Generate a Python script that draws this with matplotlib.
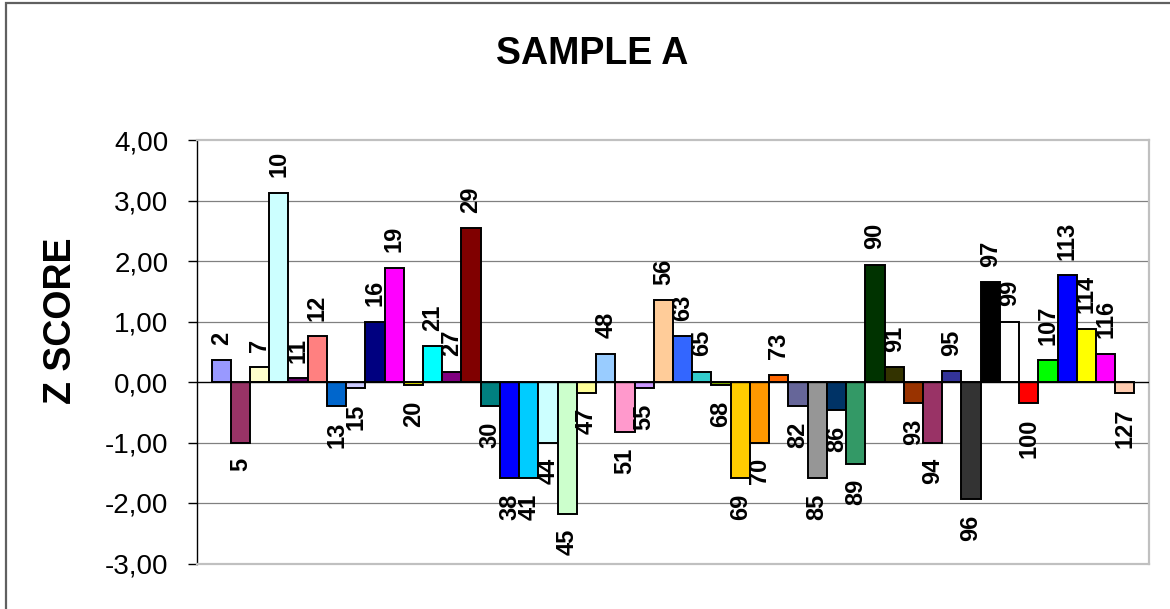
import matplotlib
matplotlib.use("Agg")
import matplotlib.pyplot as plt
from matplotlib.patches import Rectangle
import numpy as np

plt.rcParams['font.family'] = ['Liberation Sans', 'DejaVu Sans']

# sample ids (one bar each) and their z scores
sample_ids = [2, 5, 7, 10, 11, 12, 13, 15, 16, 19, 20, 21, 27, 29, 30, 38, 41, 44,
              45, 47, 48, 51, 55, 56, 63, 65, 68, 69, 70, 73, 82, 85, 86, 89, 90,
              91, 93, 94, 95, 96, 97, 99, 100, 107, 113, 114, 116, 127]
z_scores = [0.36, -1.00, 0.24, 3.13, 0.06, 0.76, -0.40, -0.10, 1.00, 1.89, -0.05,
            0.59, 0.17, 2.54, -0.40, -1.59, -1.59, -1.00, -2.18, -0.18, 0.47,
            -0.83, -0.10, 1.35, 0.76, 0.17, -0.05, -1.59, -1.00, 0.12, -0.40,
            -1.59, -0.47, -1.35, 1.94, 0.24, -0.35, -1.00, 0.18, -1.94, 1.65,
            1.00, -0.35, 0.36, 1.77, 0.88, 0.47, -0.18]
bar_colors = ['#9999FF', '#993366', '#FFFFCC', '#CCFFFF', '#660066', '#FF8080',
              '#0066CC', '#CCCCFF', '#000080', '#FF00FF', '#FFFF00', '#00FFFF',
              '#800080', '#800000', '#008080', '#0000FF', '#00CCFF', '#CCFFFF',
              '#CCFFCC', '#FFFF99', '#99CCFF', '#FF99CC', '#CC99FF', '#FFCC99',
              '#3366FF', '#33CCCC', '#99CC00', '#FFCC00', '#FF9900', '#FF6600',
              '#666699', '#969696', '#003366', '#339966', '#003300', '#333300',
              '#993300', '#993366', '#333399', '#333333', '#000000', '#FFFFFF',
              '#FF0000', '#00FF00', '#0000FF', '#FFFF00', '#FF00FF', '#FFCCB0']
ytick_vals = [-3, -2, -1, 0, 1, 2, 3, 4]
ytick_labels = ['-3,00', '-2,00', '-1,00', '0,00', '1,00', '2,00', '3,00', '4,00']

fig = plt.figure(figsize=(11.7, 6.09), dpi=100)
ax = fig.add_axes([197 / 1170, 1 - 563.5 / 609, (1149 - 197) / 1170, (563.5 - 140) / 609])

x = np.arange(len(sample_ids))
ax.bar(x, z_scores, width=1.0, color=bar_colors, edgecolor='black', linewidth=1.4, zorder=3)

# labels outside the bar ends
for xi, val, sid in zip(x, z_scores, sample_ids):
    off = 11 if val >= 0 else -11
    ax.annotate(str(sid), (xi, val), xytext=(0, off), textcoords='offset points',
                rotation=90, ha='center', va='bottom' if val >= 0 else 'top',
                fontsize=17, fontweight='bold', zorder=4)

ax.set_xlim(-1.255, len(sample_ids) - 1 + 1.255)
ax.set_ylim(-3, 4)
ax.set_yticks(ytick_vals)
ax.set_yticklabels(ytick_labels, fontsize=20)
ax.tick_params(axis='y', direction='out', length=6.5, width=1, pad=14)
ax.set_xticks([])

for v in [-2, -1, 1, 2, 3]:
    ax.axhline(v, color='#808080', lw=0.9, zorder=1)
ax.axhline(0, color='black', lw=1.0, zorder=3.5)

for s in ['top', 'right', 'bottom']:
    ax.spines[s].set_color('#C0C0C0')
    ax.spines[s].set_linewidth(1.6)
ax.spines['left'].set_color('black')
ax.spines['left'].set_linewidth(1.0)

fig.text(592.5 / 1170, 1 - 64 / 609, 'SAMPLE A', ha='center', va='baseline',
         fontsize=27, fontweight='bold')
fig.text(61 / 1170, 1 - 321 / 609, 'Z SCORE', ha='center', va='center',
         rotation=90, fontsize=27, fontweight='bold')

# outer chart frame
fig.patches.append(Rectangle((5.5 / 1170, -0.1), 1.2, (609 - 2.5) / 609 + 0.1,
                             transform=fig.transFigure, fill=False,
                             edgecolor='#606060', linewidth=1.6))

fig.savefig('out.png', dpi=100)
